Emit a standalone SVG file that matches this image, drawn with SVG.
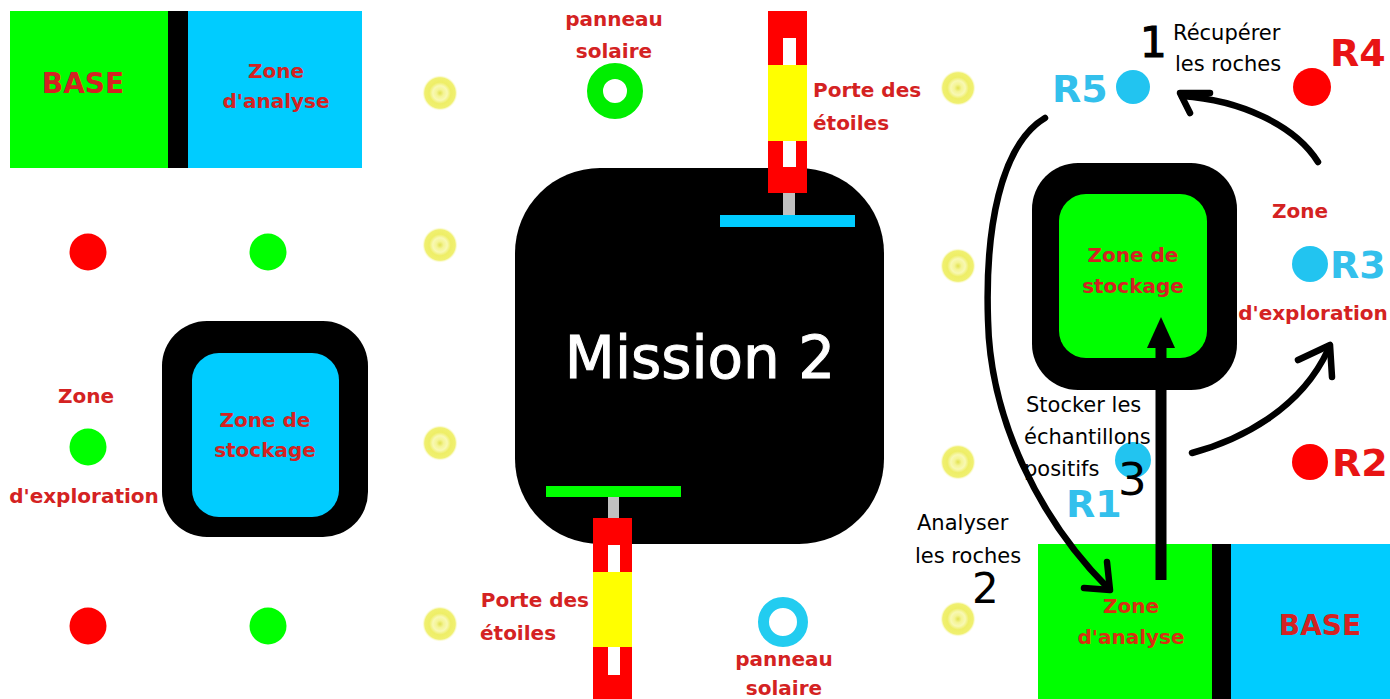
<svg xmlns="http://www.w3.org/2000/svg" width="1390" height="699" viewBox="0 0 1390 699">
<defs>
<radialGradient id="sun">
<stop offset="0" stop-color="#e2e250"/>
<stop offset="0.2" stop-color="#f4f494"/>
<stop offset="0.4" stop-color="#f8f8b4"/>
<stop offset="0.6" stop-color="#eeee66"/>
<stop offset="0.85" stop-color="#f0f070"/>
<stop offset="1" stop-color="#ffffff" stop-opacity="0"/>
</radialGradient>
<style>
.lbl{font-family:"DejaVu Sans",sans-serif;font-weight:bold;font-size:20px;fill:#d42222;text-anchor:middle}
.blk{font-family:"DejaVu Sans",sans-serif;font-size:21px;fill:#000}
.num{font-family:"DejaVu Sans",sans-serif;font-size:42px;fill:#000}
.rl{font-family:"DejaVu Sans",sans-serif;font-weight:bold;font-size:38px}
.sun{fill:url(#sun)}
.con{fill:none;stroke:#000;stroke-width:6.5;stroke-linecap:round;stroke-linejoin:round}
</style>
</defs>
<rect width="1390" height="699" fill="#fff"/>

<g id="base-top">
<rect x="10" y="11" width="158" height="157" fill="#00ff00"/>
<rect x="168" y="11" width="20" height="157" fill="#000"/>
<rect x="188" y="11" width="174" height="157" fill="#00ccff"/>
<text class="lbl" x="83" y="93" style="font-size:28px">BASE</text>
<text class="lbl" x="276" y="78">Zone</text>
<text class="lbl" x="276" y="108">d'analyse</text>
</g>

<g id="suns">
<circle class="sun" cx="440" cy="93" r="18"/>
<circle class="sun" cx="440" cy="245" r="18"/>
<circle class="sun" cx="440" cy="443" r="18"/>
<circle class="sun" cx="440" cy="624" r="18"/>
<circle class="sun" cx="958" cy="88" r="18"/>
<circle class="sun" cx="958" cy="266" r="18"/>
<circle class="sun" cx="958" cy="462" r="18"/>
<circle class="sun" cx="958" cy="619" r="18"/>
</g>

<g id="solar-top">
<circle cx="615" cy="91" r="20" fill="none" stroke="#00ee00" stroke-width="16"/>
<text class="lbl" x="614" y="26">panneau</text>
<text class="lbl" x="614" y="58">solaire</text>
</g>

<g id="mission">
<rect x="515" y="168" width="369" height="376" rx="85" fill="#000"/>
<text x="700" y="378" font-family="DejaVu Sans, sans-serif" font-size="58" fill="#fff" stroke="#fff" stroke-width="1" text-anchor="middle">Mission 2</text>
</g>

<g id="gate-top">
<rect x="768" y="11" width="39" height="182" fill="#ff0000"/>
<rect x="783" y="38" width="13" height="27" fill="#fff"/>
<rect x="768" y="65" width="39" height="76" fill="#ffff00"/>
<rect x="783" y="141" width="13" height="26" fill="#fff"/>
<rect x="783" y="193" width="12" height="22" fill="#c0c0c0"/>
<rect x="720" y="215" width="135" height="12" fill="#00ccff"/>
<text class="lbl" x="813" y="97" style="text-anchor:start">Porte des</text>
<text class="lbl" x="813" y="130" style="text-anchor:start">étoiles</text>
</g>

<g id="gate-bottom">
<rect x="546" y="486" width="135" height="11" fill="#00ff00"/>
<rect x="608" y="497" width="11" height="21" fill="#c0c0c0"/>
<rect x="593" y="518" width="39" height="181" fill="#ff0000"/>
<rect x="608" y="545" width="12" height="27" fill="#fff"/>
<rect x="593" y="572" width="39" height="75" fill="#ffff00"/>
<rect x="608" y="647" width="12" height="28" fill="#fff"/>
<text class="lbl" x="589" y="607" style="text-anchor:end">Porte des</text>
<text class="lbl" x="480" y="640" style="text-anchor:start">étoiles</text>
</g>

<g id="solar-bottom">
<circle cx="783" cy="622" r="19.5" fill="none" stroke="#22ccf0" stroke-width="11"/>
<text class="lbl" x="784" y="666">panneau</text>
<text class="lbl" x="784" y="695">solaire</text>
</g>

<g id="left-dots">
<circle cx="88" cy="252" r="18.5" fill="#ff0000"/>
<circle cx="268" cy="252" r="18.5" fill="#00ff00"/>
<circle cx="88" cy="447" r="18.5" fill="#00ff00"/>
<circle cx="88" cy="626" r="18.5" fill="#ff0000"/>
<circle cx="268" cy="626" r="18.5" fill="#00ff00"/>
<text class="lbl" x="86" y="403">Zone</text>
<text class="lbl" x="84" y="503">d'exploration</text>
</g>

<g id="storage-left">
<rect x="162" y="321" width="206" height="216" rx="45" fill="#000"/>
<rect x="192" y="353" width="147" height="164" rx="27" fill="#00ccff"/>
<text class="lbl" x="265" y="427">Zone de</text>
<text class="lbl" x="265" y="457">stockage</text>
</g>

<g id="storage-right">
<rect x="1032" y="163" width="205" height="227" rx="46" fill="#000"/>
<rect x="1059" y="194" width="148" height="164" rx="27" fill="#00ff00"/>
<text class="lbl" x="1133" y="262">Zone de</text>
<text class="lbl" x="1133" y="293">stockage</text>
</g>

<g id="base-bottom">
<rect x="1038" y="544" width="174" height="155" fill="#00ff00"/>
<rect x="1212" y="544" width="19" height="155" fill="#000"/>
<rect x="1231" y="544" width="159" height="155" fill="#00ccff"/>
<text class="lbl" x="1131" y="613" style="fill:#d83010">Zone</text>
<text class="lbl" x="1131" y="644" style="fill:#d83010">d'analyse</text>
<text class="lbl" x="1320" y="635" style="font-size:28px">BASE</text>
</g>

<g id="rocks">
<circle cx="1133" cy="87" r="17" fill="#22c4f0"/>
<text class="rl" x="1052" y="102" fill="#33c0ec">R5</text>
<circle cx="1312" cy="87" r="19" fill="#ff0000"/>
<text class="rl" x="1330" y="66" fill="#e81414">R4</text>
<circle cx="1310" cy="264" r="18" fill="#22c4f0"/>
<text class="rl" x="1330" y="278" fill="#33c0ec">R3</text>
<circle cx="1310" cy="462" r="18" fill="#ff0000"/>
<text class="rl" x="1332" y="476" fill="#e81414">R2</text>
<circle cx="1133" cy="460" r="18" fill="#22c4f0"/>
<text class="rl" x="1066" y="517" fill="#33c0ec">R1</text>
</g>

<g id="right-labels">
<text class="lbl" x="1300" y="218">Zone</text>
<text class="lbl" x="1313" y="320">d'exploration</text>
<text class="num" x="1140" y="57" stroke="#000" stroke-width="1.2">1</text>
<text class="blk" x="1173" y="40">Récupérer</text>
<text class="blk" x="1175" y="71">les roches</text>
<text class="blk" x="1026" y="412">Stocker les</text>
<text class="blk" x="1024" y="444">échantillons</text>
<text class="blk" x="1024" y="476">positifs</text>
<text class="num" x="1118" y="495" style="font-size:45px">3</text>
<text class="blk" x="917" y="530">Analyser</text>
<text class="blk" x="915" y="563">les roches</text>
<text class="num" x="972" y="603">2</text>
</g>

<g id="connectors">
<path class="con" d="M1318,162 C1295,125 1240,100 1182,96"/>
<path class="con" d="M1210,93 L1180,93 L1190,113"/>
<path class="con" d="M1045,118 C1000,145 985,230 988,320 C990,420 1040,520 1108,588"/>
<path class="con" d="M1107,562 L1110,590 L1084,588"/>
<path d="M1161,580 L1161,345" fill="none" stroke="#000" stroke-width="11"/>
<polygon points="1147,348 1175,348 1161,317" fill="#000"/>
<path class="con" d="M1192,453 C1240,440 1300,410 1328,350"/>
<path class="con" d="M1298,360 L1330,345 L1332,377"/>
</g>
</svg>
